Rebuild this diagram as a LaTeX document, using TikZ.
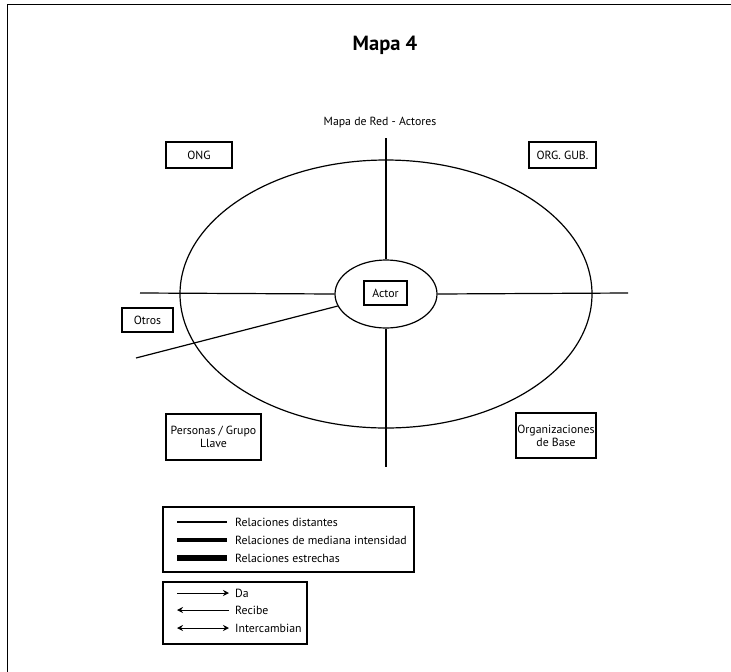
\documentclass[tikz,border=0pt]{standalone}
\usepackage{fontspec}
\setmainfont{PT Sans}
\usetikzlibrary{shapes.geometric,arrows.meta}
\begin{document}
\begin{tikzpicture}[x=1pt,y=-1pt,
  lw/.style={line width=1.2pt},
  lbl/.style={draw,line width=1.1pt,font=\fontsize{11.8}{13}\selectfont,inner sep=1pt,align=center},
  legtxt/.style={anchor=west,font=\fontsize{11.8}{13}\selectfont,inner sep=0pt},
  arr/.style={line width=1pt,-{Stealth[length=6pt,width=6pt]}},
  arrb/.style={line width=1pt,{Stealth[length=6pt,width=6pt]}-{Stealth[length=6pt,width=6pt]}}
]
\useasboundingbox (0,0) rectangle (731,672);
% frame
\draw[line width=1.3pt] (7.5,672) -- (7.5,4.5) -- (731,4.5);
% title
\node[font=\fontsize{20.5}{24}\selectfont\bfseries] (title) at (385,45) {Mapa 4};
\node[font=\fontsize{11.8}{13}\selectfont] (sub) at (380,122) {Mapa de Red - Actores};
% ellipses
\node[ellipse,draw,lw,minimum width=412,minimum height=268,inner sep=0pt] (big) at (386,294) {};
\node[ellipse,draw,lw,minimum width=102,minimum height=68,inner sep=0pt] (small) at (386,294) {};
\node[lbl,minimum width=43,minimum height=24] (actor) at (385.5,293) {Actor};
% axes
\coordinate (vt) at (386,138);
\coordinate (vb) at (386,467);
\coordinate (hl) at (140,293);
\coordinate (hr) at (628,293);
\coordinate (sl) at (136,358);
\draw[lw] (vt) -- (small.north);
\draw[lw] (small.south) -- (vb);
\draw[lw] (hl) -- (small.west);
\draw[lw] (small.east) -- (hr);
\draw[lw] (sl) -- (small.194);
% labels
\node[lbl,minimum width=66,minimum height=26] (ong) at (199,155) {ONG};
\node[lbl,minimum width=67,minimum height=26] (gub) at (562.5,155) {ORG. GUB.};
\node[lbl,minimum width=51,minimum height=24] (otros) at (147.5,320) {Otros};
\node[lbl,minimum width=95,minimum height=46] (pers) at (213.5,437) {Personas / Grupo\\Llave};
\node[lbl,minimum width=80,minimum height=45] (org) at (556,435.5) {Organizaciones\\de Base};
% legend 1
\node[draw,line width=1.1pt,minimum width=251,minimum height=65,inner sep=0pt] (leg1) at (288.5,539.5) {};
\coordinate (a1) at (177,522); \coordinate (b1) at (227,522);
\coordinate (a2) at (177,540); \coordinate (b2) at (227,540);
\coordinate (a3) at (177,558); \coordinate (b3) at (227,558);
\draw[line width=1.2pt] (a1) -- (b1);
\draw[line width=3.5pt] (a2) -- (b2);
\draw[line width=5.5pt] (a3) -- (b3);
\node[legtxt] (t1) at (235,522) {Relaciones distantes};
\node[legtxt] (t2) at (235,540) {Relaciones de mediana intensidad};
\node[legtxt] (t3) at (235,558) {Relaciones estrechas};
% legend 2
\node[draw,line width=1.1pt,minimum width=144,minimum height=62,inner sep=0pt] (leg2) at (235,613) {};
\coordinate (c1) at (177,593); \coordinate (d1) at (229,593);
\coordinate (c2) at (177,610); \coordinate (d2) at (229,610);
\coordinate (c3) at (177,628); \coordinate (d3) at (229,628);
\draw[arr] (c1) -- (d1);
\draw[arr] (d2) -- (c2);
\draw[arrb] (c3) -- (d3);
\node[legtxt] (u1) at (235,593) {Da};
\node[legtxt] (u2) at (235,610) {Recibe};
\node[legtxt] (u3) at (235,628) {Intercambian};
\end{tikzpicture}
\end{document}
